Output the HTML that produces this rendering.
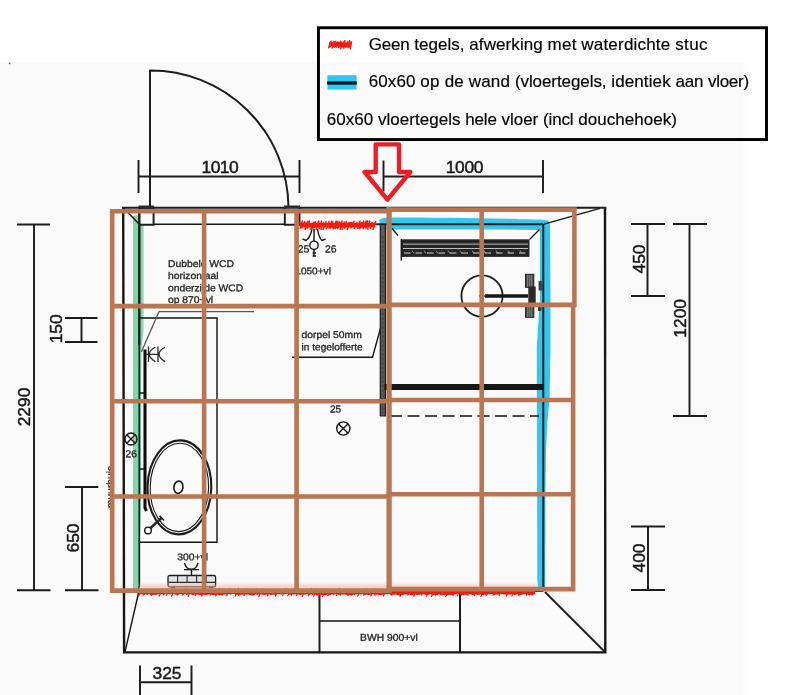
<!DOCTYPE html>
<html lang="nl">
<head>
<meta charset="utf-8">
<title>Badkamer tegelplan</title>
<style>
html,body{margin:0;padding:0;background:#fff;}
body{width:800px;height:695px;overflow:hidden;position:relative;}
svg{display:block;position:absolute;left:0;top:0;}
text{font-family:"Liberation Sans",sans-serif;fill:#111;}
.dim{font-size:17.4px;fill:#151515;stroke:#151515;stroke-width:0.45;}
.sm{font-size:9.8px;fill:#262626;stroke:#262626;stroke-width:0.32;}
.lg{font-size:17px;fill:#000;stroke:#000;stroke-width:0.18;white-space:pre;}
.ink{stroke:#1e1e1e;fill:none;stroke-width:1.95;}
.thin{stroke:#161616;fill:none;stroke-width:1.4;}
.wall{stroke:#141414;fill:none;stroke-width:2.4;}
.grid{stroke:#b97652;fill:none;stroke-width:4.6;}
</style>
</head>
<body>
<svg width="800" height="695" viewBox="0 0 800 695">
<defs>
<filter id="soft" x="-5%" y="-5%" width="110%" height="110%"><feGaussianBlur stdDeviation="0.42"/></filter>
<filter id="soft2" x="-20%" y="-20%" width="140%" height="140%"><feGaussianBlur stdDeviation="0.65"/></filter>
<filter id="haze" x="-20%" y="-100%" width="140%" height="300%"><feGaussianBlur stdDeviation="1.6"/></filter>
</defs>
<rect x="0" y="0" width="800" height="695" fill="#ffffff"/>
<rect x="0" y="61.8" width="745.5" height="634" fill="#fdfdfd"/>
<rect x="0" y="62.8" width="742.3" height="633" fill="#fafafb"/>

<g filter="url(#soft)">
<path d="M133,216 L138,215 L138,226 L143.5,226 L143.5,330 L141.5,350 L141,420 L141,500 L139.5,560 L138.5,590 L133,590 Z" fill="#82d6a7" filter="url(#soft2)"/>
<path d="M379,220 L383,218 L388,217.5 C430,217 500,218.5 540,219.6 L548,220.5 L550,223 L550.5,300 L550.5,348 L549.5,400 L547.5,420 L546,450 L545.4,500 L545.2,586 L544,590 L538.3,590 L537.3,580 L537,470 L536.8,348 L538.5,320 L540,300 L540,230 L500,229.6 L450,229.4 L388,229.4 L381,229.5 L380.5,226 Z" fill="#36c6f0" filter="url(#soft2)"/>
<path class="wall" d="M123.2,207.8 L124.1,652.4 H605.3 L605,207.8"/>
<path class="ink" style="stroke-width:1.9" d="M122,207.8 H606.3"/>
<path class="ink" style="stroke-width:2.4" d="M139.3,207.8 V345"/>
<path class="ink" style="stroke-width:1.7" d="M139.3,345 V585 L138.3,593"/>
<path class="thin" d="M139.5,469 H144 M139.5,393 H144"/>
<path class="thin" d="M153,224.3 H285 M300,224.3 H376"/>
<path class="ink" style="stroke-width:2.1" d="M376,224.3 H543.3"/>
<path class="thin" d="M392,228.5 L398,235.5"/>
<path class="ink" style="stroke-width:2" d="M543.3,224.3 V591"/>
<path class="ink" d="M139.3,591 H543.3"/>
<path class="thin" d="M123.5,208 L139,224 M544,224.2 L600,208.3 M125,651.8 L138.5,593"/>
<path class="ink" style="stroke-width:2" d="M545,592 L605,652"/>
<path class="ink" style="stroke-width:2" d="M150,207 V70.5 A138,138 0 0 1 288.5,207"/>
<circle cx="9.6" cy="63.4" r="0.9" fill="#555"/>
<path class="ink" d="M139.3,207.8 H153.6 V224.8 H139.3 M284.8,207.8 V224.8 H299.5 V207.8"/>
<path class="ink" style="stroke-width:2.6;stroke:#2a2a2a" d="M138.5,206.8 H154 M284,206.8 H300"/>
<path class="ink" d="M138.5,176.5 H299.5 M138.5,160 V193 M299.5,160 V193"/>
<path class="ink" d="M383.5,176.5 H543 M383.5,160.5 V191.5 M543,160 V193"/>
<path class="ink" d="M34,224.4 V590.3 M17,224.4 H50 M17,590.3 H50.5"/>
<path class="ink" d="M81.5,318 V342 M65,318 H97.5 M65,342 H97.5"/>
<path class="ink" d="M82,486.9 V590.3 M65,486.9 H98.3 M65,590.3 H98.5"/>
<path class="ink" d="M140,682.2 H191.5 M140,665.5 V695 M191.5,665.5 V695"/>
<path class="ink" d="M647.5,224 V296 M631,224 H665 M631,296 H665"/>
<path class="ink" d="M689.5,224 V416 M673,224 H707 M673,416 H707"/>
<path class="ink" d="M648,526.4 V590 M631,526.4 H665 M631,590 H665"/>
<path class="ink" style="stroke-width:2" d="M319.5,592 V652.4 M460,592 V652.4"/>
<path class="thin" d="M320,621 H460"/>
<path class="thin" d="M140,318 H217 V542.3 H140"/>
<path class="thin" style="stroke:#555;stroke-width:1.3" d="M254,311.6 H159 L141.3,352"/>
<path class="ink" style="stroke-width:3.1;stroke:#111" d="M145,349.5 V508 L146.5,511"/>
<ellipse class="ink" cx="179.4" cy="487.4" rx="31.9" ry="47" style="stroke-width:2.1" transform="rotate(1.5 179.4 487.4)"/>
<ellipse class="thin" cx="179.4" cy="487.4" rx="29.2" ry="44.2" style="stroke-width:1.1" transform="rotate(1.5 179.4 487.4)"/>
<ellipse class="ink" cx="178.4" cy="487.2" rx="4.5" ry="6.2" style="stroke-width:1.7" transform="rotate(8 178.4 487.2)"/>
<circle class="thin" cx="148" cy="530.4" r="3.3"/>
<path class="ink" style="stroke-width:2.6;stroke:#2a2a2a" d="M150.5,528 L161.5,518"/>
<path class="ink" style="stroke-width:1.6" d="M159.5,515.8 L164,520.5"/>
<path class="thin" style="stroke:#2a2a2a;stroke-width:1.3" d="M148.5,346.5 V362 M158,346.5 V362 M146,354.3 H158.5 M155.3,347.3 Q149.3,350.5 149.3,354.3 Q149.3,358 155.3,361.6 M165,347.3 Q159,350.5 159,354.3 Q159,358 165,361.6"/>
<circle class="thin" cx="131" cy="439" r="6"/><path class="thin" d="M126.8,434.8 L135.2,443.2 M135.2,434.8 L126.8,443.2"/>
<circle class="thin" cx="343.3" cy="428.5" r="6.6"/><path class="thin" d="M338.7,423.9 L347.9,433.1 M347.9,423.9 L338.7,433.1"/>
<circle class="thin" cx="314" cy="245.3" r="4.2"/>
<path class="thin" d="M314,241 V229 M314,249.5 V256 M312.5,253 H316 M312.5,256 H316 M312,229 Q310,238 306,240.5 L302.5,239 M317.5,229 Q319,238 322,240.5 L325.5,239"/>
<path class="thin" d="M184.5,562.8 Q186,569.3 191.3,569.3 Q196.6,569.3 198,562.8 M184,569.6 H199 M191.5,569.6 V576"/>
<rect x="168" y="575.5" width="47.6" height="11.3" rx="2" ry="2" fill="#e2e2e2" stroke="#1e1e1e" stroke-width="1.3"/>
<path d="M177.6,575.8 V582 M187.1,575.8 V582 M196.6,575.8 V582 M206.1,575.8 V582" stroke="#2a2a2a" stroke-width="1.1" fill="none"/>
<path d="M168.5,582.3 H215.2" stroke="#2a2a2a" stroke-width="1.2" fill="none"/>
<path d="M171,587.3 H175 M209,587.3 H213" stroke="#2a2a2a" stroke-width="1.4" fill="none"/>
<path class="thin" d="M292,357.3 H372.5 L385,312"/>
<rect x="380" y="225" width="5.8" height="191" fill="#5c5c5c"/>
<path d="M380.3,225 V416 M385.4,225 V416 M380,416 H386" stroke="#1c1c1c" stroke-width="1.2" fill="none"/>
<path d="M382.8,236 V414" stroke="#3a3a3a" stroke-width="0.9" stroke-dasharray="3 1.5" fill="none"/>
<path d="M384.5,387 H543" stroke="#141414" stroke-width="6" fill="none"/>
<path class="thin" d="M390,416 H539" stroke-dasharray="12 5.5"/>
<rect x="401" y="239.3" width="128.5" height="17.6" fill="#262626"/>
<path d="M403,244.1 H528 M403,248.5 H528" stroke="#e4e4e4" stroke-width="0.8" fill="none"/>
<path d="M404,253 H528" stroke="#cfcfcf" stroke-width="1.1" stroke-dasharray="6.5 5" fill="none"/>
<path d="M412,250.5 l2,3 M424,250.5 l2,3 M436,250.5 l2,3 M448,250.5 l2,3 M460,250.5 l2,3 M472,250.5 l2,3 M484,250.5 l2,3 M496,250.5 l2,3 M508,250.5 l2,3 M520,250.5 l2,3" stroke="#bbb" stroke-width="0.7" fill="none"/>
<path class="thin" d="M529.5,239.5 L539.5,229.5 M401.3,239 V260.5"/>
<circle class="ink" cx="482" cy="296" r="20.6" style="stroke-width:1.8"/>
<path d="M479,296 H486" stroke="#1a1a1a" stroke-width="1.2" fill="none"/>
<path d="M485,296 H528" stroke="#151515" stroke-width="3.4" fill="none"/>
<rect x="525.6" y="274.3" width="8.2" height="13" fill="#4a4a4a" stroke="#1e1e1e" stroke-width="1"/>
<rect x="525.6" y="305" width="8.2" height="12.3" fill="#4a4a4a" stroke="#1e1e1e" stroke-width="1"/>
<path d="M527.7,275 V287 M529.7,275 V287 M531.7,275 V287 M527.7,305.5 V317 M529.7,305.5 V317 M531.7,305.5 V317" stroke="#9a9a9a" stroke-width="0.7" fill="none"/>
<rect x="528.3" y="286.5" width="7.4" height="19" fill="#2a2a2a"/>
<rect x="538.6" y="281" width="3.2" height="9.5" fill="#3a3a3a"/><rect x="538" y="303" width="3.4" height="8" fill="#3a3a3a"/>
<text class="dim" x="201.5" y="172.8" textLength="37.2" lengthAdjust="spacing">1010</text>
<text class="dim" x="445.8" y="172.8" textLength="37.6" lengthAdjust="spacing">1000</text>
<text class="dim" transform="translate(30.2,407) rotate(-90)" text-anchor="middle">2290</text>
<text class="dim" transform="translate(62,328.8) rotate(-90)" text-anchor="middle">150</text>
<text class="dim" transform="translate(78.5,538) rotate(-90)" text-anchor="middle">650</text>
<text class="dim" x="167" y="678.5" text-anchor="middle">325</text>
<text class="dim" transform="translate(644.5,259) rotate(-90)" text-anchor="middle">450</text>
<text class="dim" transform="translate(685.9,318.3) rotate(-90)" text-anchor="middle">1200</text>
<text class="dim" transform="translate(645,558) rotate(-90)" text-anchor="middle">400</text>
<text class="sm" transform="translate(168,266.9) rotate(0.03) scale(1.056,1)" style="font-size:9.8px">Dubbele WCD</text>
<text class="sm" transform="translate(168,279) rotate(0.03) scale(1.056,1)" style="font-size:9.8px">horizontaal</text>
<text class="sm" transform="translate(168,291.3) rotate(0.03) scale(1.056,1)" style="font-size:9.8px">onderzijde WCD</text>
<text class="sm" transform="translate(168,303) rotate(0.03) scale(1.056,1)" style="font-size:9.8px">op 870+vl</text>
<text class="sm" transform="translate(297.8,252.6) rotate(0.03) scale(1.0,1)" style="font-size:10.4px">25</text>
<text class="sm" transform="translate(325.0,252.6) rotate(0.03) scale(1.0,1)" style="font-size:10.4px">26</text>
<text class="sm" transform="translate(295.3,274.3) rotate(0.03) scale(1.03,1)" style="font-size:9.8px">1050+vl</text>
<text class="sm" transform="translate(301.5,338) rotate(0.03) scale(1.056,1)" style="font-size:9.8px">dorpel 50mm</text>
<text class="sm" transform="translate(301.5,350.3) rotate(0.03) scale(1.035,1)" style="font-size:9.8px">in tegelofferte</text>
<text class="sm" transform="translate(329.9,412.5) rotate(0.03) scale(1.0,1)" style="font-size:10.2px">25</text>
<text class="sm" transform="translate(125.6,457.2) rotate(0.03) scale(1.0,1)" style="font-size:10.2px">26</text>
<text class="sm" transform="translate(113.4,508.3) rotate(-90.03) scale(1.056,1)" style="font-size:9.8px">muurbuis</text>
<text class="sm" transform="translate(177.3,560.2) rotate(0.03) scale(1.056,1)" style="font-size:9.8px">300+vl</text>
<text class="sm" transform="translate(360,640.8) rotate(0.03) scale(1.056,1)" style="font-size:9.8px" stroke-width="0.5">BWH 900+vl</text>
</g>
<path d="M139,584.5 H537 V589 H139 Z" fill="#f8aaa0" filter="url(#haze)" opacity="0.55"/>
<path d="M300,222 H376 V228 H300 Z" fill="#f8a090" filter="url(#haze)" opacity="0.55"/>
<g filter="url(#soft)"><path d="M300.5,222.3 L302.8,222.9 L305.5,222.3 L307.6,223.2 L309.4,222.9 L311.9,223.0 L314.2,222.4 L316.4,223.1 L319.1,222.5 L321.9,223.3 L323.7,223.4 L325.7,222.7 L328.0,222.8 L330.8,223.3 L332.5,223.3 L334.8,223.0 L337.1,222.4 L339.9,222.0 L341.7,222.4 L343.3,222.9 L345.3,223.3 L348.1,222.4 L349.7,222.2 L351.4,222.0 L354.3,223.3 L356.5,222.9 L358.8,223.4 L361.3,222.3 L363.6,222.8 L365.9,221.9 L367.5,222.9 L369.5,223.0 L371.1,223.0 L373.2,222.8 L375.2,222.5 L375.3,227.0 L373.0,227.1 L371.7,226.9 L369.8,226.5 L367.4,227.6 L366.0,227.5 L363.0,227.2 L361.1,228.1 L358.8,227.2 L356.6,227.4 L354.1,227.2 L351.9,227.0 L349.6,227.5 L347.6,227.5 L345.8,227.3 L342.7,227.6 L342.0,227.9 L340.3,227.2 L336.6,227.9 L334.5,227.8 L333.1,227.9 L331.3,227.6 L328.5,227.6 L325.5,227.1 L323.7,227.5 L321.4,226.7 L319.5,227.2 L316.8,227.6 L313.7,227.9 L311.4,227.7 L309.8,227.3 L307.6,227.5 L305.2,228.1 L302.3,226.5 L300.6,227.1Z" fill="#f01e0e"/><path d="M300.0,228.2 L302.3,221.0 M301.8,227.9 L304.7,221.5 M305.1,229.2 L307.6,221.2 M307.3,228.1 L309.4,221.0 M310.9,229.3 L313.6,222.3 M312.8,228.4 L315.4,221.9 M316.2,229.4 L318.7,221.0 M319.2,228.7 L321.6,221.1 M320.9,229.5 L323.4,222.4 M323.1,229.4 L325.9,221.8 M326.5,228.7 L329.0,221.5 M329.0,228.1 L331.7,221.3 M330.6,227.9 L332.8,221.9 M333.3,228.6 L336.2,221.4 M335.2,228.5 L337.8,221.2 M337.3,228.4 L339.6,222.1 M340.1,229.4 L342.1,221.0 M342.1,229.2 L344.3,221.9 M344.4,228.1 L346.3,221.6 M347.4,229.4 L350.1,222.5 M351.1,227.8 L354.0,221.3 M354.3,228.5 L356.9,222.5 M357.7,228.3 L360.0,221.1 M359.5,228.5 L361.7,222.5 M361.0,227.9 L363.7,221.1 M363.3,228.3 L366.2,221.0 M365.8,228.2 L367.7,220.9 M367.7,229.0 L369.6,221.1 M370.3,228.2 L372.3,222.6 M372.9,229.2 L375.8,221.5" stroke="#f01e0e" stroke-width="1.5" fill="none" stroke-linecap="round"/></g>
<g filter="url(#soft)"><path d="M139.0,590.2 L141.2,590.4 L142.8,590.7 L144.1,590.0 L145.9,589.2 L148.0,590.4 L149.4,590.2 L151.4,589.5 L153.5,589.7 L155.4,589.5 L157.6,590.6 L158.9,589.4 L160.7,589.2 L162.2,590.5 L163.9,590.3 L165.1,590.4 L167.1,589.8 L168.4,589.5 L170.3,590.7 L171.9,590.0 L173.8,590.5 L176.0,589.3 L178.1,589.7 L179.6,589.7 L181.0,590.3 L182.2,590.8 L183.6,590.2 L185.3,589.3 L186.9,590.5 L189.1,590.2 L190.7,589.4 L192.4,590.8 L194.0,590.0 L195.5,589.8 L197.7,590.7 L199.3,589.3 L201.3,589.8 L203.2,590.3 L205.1,589.6 L207.0,589.7 L208.8,589.2 L210.7,589.9 L212.7,589.8 L214.7,589.8 L216.6,590.8 L218.4,589.5 L220.0,590.3 L221.4,590.4 L223.0,590.2 L224.9,589.2 L226.8,589.6 L228.0,590.0 L229.4,589.7 L230.6,589.9 L232.4,589.6 L234.0,589.6 L236.0,589.8 L237.3,590.1 L239.5,590.5 L241.3,589.8 L243.1,590.7 L244.6,590.6 L246.4,590.2 L248.5,589.8 L250.0,590.8 L252.1,590.2 L253.8,589.9 L255.5,589.7 L257.3,589.9 L259.4,589.2 L261.5,590.5 L262.8,590.8 L264.5,590.2 L265.8,590.4 L267.4,589.7 L268.9,590.4 L270.4,589.9 L272.1,589.2 L273.9,590.3 L276.0,589.8 L277.4,589.7 L279.4,590.3 L281.4,590.7 L283.2,590.0 L285.0,590.5 L287.0,590.5 L288.9,590.8 L290.2,590.5 L292.3,590.3 L294.4,589.4 L295.8,590.2 L297.4,589.3 L299.3,590.6 L300.8,590.2 L302.4,589.3 L304.2,590.0 L306.1,589.6 L308.0,590.0 L309.6,590.4 L311.4,589.3 L312.8,590.2 L314.4,589.7 L316.4,589.3 L318.3,589.6 L320.1,590.5 L321.7,589.6 L323.2,589.8 L325.1,590.5 L326.8,590.1 L328.4,589.4 L329.6,590.6 L330.8,590.0 L332.4,589.9 L333.8,589.8 L335.1,589.6 L336.6,589.6 L338.7,589.8 L340.6,590.0 L342.5,589.7 L343.9,589.5 L345.1,589.8 L346.6,589.9 L348.6,589.5 L350.7,590.2 L351.9,589.3 L353.1,590.1 L354.7,589.4 L356.4,590.7 L357.6,589.8 L359.2,589.7 L361.4,589.5 L363.1,589.3 L364.9,590.7 L366.3,589.2 L368.1,589.8 L370.2,589.7 L371.6,589.4 L373.6,590.5 L374.8,589.6 L376.6,589.6 L377.9,589.5 L379.2,589.9 L380.9,590.6 L382.7,589.9 L384.9,590.4 L386.9,589.8 L388.2,589.6 L389.5,590.4 L390.7,589.4 L392.9,590.2 L394.4,589.7 L396.5,590.4 L397.8,590.3 L399.8,589.4 L401.5,589.9 L403.7,590.1 L404.9,590.5 L407.1,589.3 L409.2,589.8 L410.6,590.1 L412.1,589.8 L414.1,590.6 L415.4,590.5 L416.8,589.4 L418.2,590.5 L420.3,590.2 L421.5,590.0 L423.1,589.7 L424.6,590.0 L426.8,590.5 L428.7,590.1 L430.5,590.3 L431.8,589.3 L433.7,590.3 L435.2,590.3 L437.1,590.7 L439.1,590.4 L440.8,590.6 L442.6,589.8 L444.0,590.2 L445.8,589.8 L447.5,590.3 L448.9,589.7 L451.0,589.5 L452.5,589.3 L454.5,590.4 L456.3,590.6 L458.1,590.7 L459.4,590.1 L460.8,590.2 L462.7,589.3 L464.9,589.7 L467.0,589.6 L468.7,589.4 L470.0,589.4 L471.9,590.4 L473.8,590.7 L476.0,589.4 L477.4,589.8 L479.4,589.3 L480.9,589.4 L482.8,590.0 L484.1,590.4 L485.4,590.0 L487.5,589.8 L489.4,590.5 L491.0,590.6 L492.6,589.6 L494.0,589.4 L495.8,589.8 L497.3,590.5 L498.9,589.2 L500.5,590.0 L502.7,589.9 L504.1,590.7 L505.4,589.8 L507.2,590.6 L508.4,589.2 L510.5,590.5 L512.7,590.4 L514.7,589.9 L516.1,589.9 L517.6,590.3 L519.2,589.3 L521.3,589.5 L523.5,590.2 L525.6,590.7 L527.3,589.6 L529.2,589.4 L531.1,589.3 L532.7,589.8 L534.9,589.6 L535.0,594.2 L532.7,594.7 L530.7,594.8 L529.3,595.4 L527.6,594.4 L525.1,594.1 L523.1,594.2 L520.7,595.1 L519.1,595.2 L517.1,594.1 L515.8,594.6 L515.3,595.4 L513.2,594.0 L511.0,594.4 L508.7,594.5 L507.4,594.8 L505.7,594.5 L504.4,594.6 L502.6,593.9 L499.9,594.1 L498.6,594.5 L496.7,595.0 L496.3,593.9 L494.0,595.4 L492.8,593.9 L491.0,593.9 L489.5,594.3 L487.3,594.6 L485.2,595.0 L484.4,594.3 L483.4,595.3 L481.1,594.4 L479.3,594.7 L477.4,594.9 L475.5,593.9 L474.4,594.8 L472.3,595.1 L470.1,594.0 L468.3,594.1 L467.2,595.1 L465.3,594.8 L462.7,595.1 L460.9,594.9 L459.5,594.1 L457.7,593.8 L456.0,594.2 L454.4,594.5 L452.5,595.1 L451.2,595.0 L448.7,594.8 L447.4,595.2 L445.3,594.9 L444.4,595.3 L442.0,594.4 L440.5,595.4 L439.3,594.1 L437.6,594.9 L434.7,595.0 L433.5,595.3 L431.6,594.7 L430.5,594.3 L429.1,594.4 L427.3,594.9 L424.9,594.4 L422.5,594.3 L421.6,594.1 L420.6,594.4 L418.0,594.9 L417.1,595.2 L415.4,593.9 L414.2,594.4 L411.8,595.4 L410.5,595.0 L408.9,594.2 L407.2,594.6 L404.9,593.9 L404.2,594.8 L401.4,595.0 L399.6,595.3 L397.8,595.3 L396.0,594.6 L393.9,594.7 L392.6,594.5 L390.6,595.2 L389.6,593.8 L388.4,594.3 L386.4,593.9 L385.1,594.2 L383.1,594.8 L381.1,595.0 L378.9,595.0 L377.6,594.4 L376.1,594.9 L374.4,594.5 L373.4,594.0 L371.4,593.9 L370.1,595.1 L368.2,595.0 L366.3,594.6 L365.0,595.2 L362.9,594.0 L361.4,594.4 L358.7,593.9 L357.1,594.2 L355.8,594.2 L354.2,595.2 L353.7,594.6 L352.2,594.5 L350.6,595.4 L348.2,594.9 L346.4,595.0 L345.7,594.4 L343.3,594.2 L342.7,595.0 L341.2,594.0 L339.3,594.9 L336.6,593.9 L334.9,594.1 L333.7,595.2 L332.0,594.0 L331.3,594.8 L329.6,595.0 L327.8,594.1 L326.9,595.0 L325.0,595.2 L322.8,595.1 L321.5,594.8 L319.7,594.8 L317.8,595.4 L316.0,595.3 L314.8,593.8 L312.5,595.2 L311.6,593.9 L309.2,594.9 L307.6,594.2 L306.1,594.2 L304.7,594.7 L302.6,594.0 L300.8,595.3 L298.9,594.5 L296.8,594.7 L295.3,594.0 L294.6,594.5 L291.9,594.3 L289.8,594.8 L289.5,594.9 L287.2,593.8 L284.4,594.2 L283.0,594.0 L281.0,594.6 L279.4,594.3 L277.8,593.9 L275.9,595.2 L274.0,594.6 L272.4,594.5 L270.9,595.2 L269.0,593.9 L267.4,594.5 L265.6,594.7 L264.6,595.0 L262.6,594.8 L261.2,594.2 L259.4,594.2 L257.1,595.1 L255.5,594.0 L253.6,595.4 L251.8,595.4 L249.8,595.3 L248.4,594.2 L246.0,594.8 L244.0,594.0 L243.6,594.8 L240.9,594.8 L239.4,595.1 L237.1,594.7 L235.5,594.8 L233.9,594.0 L232.9,593.8 L230.4,594.8 L229.0,594.1 L227.7,593.9 L227.0,594.8 L224.5,594.5 L223.4,594.8 L221.5,594.9 L220.3,595.0 L218.8,595.3 L217.2,594.6 L215.1,595.2 L212.9,595.0 L211.1,594.8 L208.9,594.2 L207.6,594.8 L205.1,595.0 L203.6,594.4 L201.7,595.0 L199.0,595.1 L197.9,594.6 L195.1,594.4 L194.3,594.6 L192.8,595.4 L191.2,594.3 L189.5,594.0 L186.5,595.0 L185.8,593.9 L184.0,594.5 L182.2,594.4 L181.6,594.1 L179.2,593.9 L178.6,594.7 L175.8,594.8 L174.3,593.9 L172.2,594.0 L170.9,594.4 L168.9,594.1 L167.2,593.8 L165.5,593.8 L163.4,595.4 L162.2,594.3 L160.9,594.3 L158.4,594.3 L157.3,594.4 L155.9,594.9 L154.1,594.7 L151.1,595.4 L148.9,593.8 L147.6,595.1 L145.6,594.2 L143.8,594.7 L143.0,595.2 L141.7,593.8 L139.3,595.1Z" fill="#f01e0e"/><path d="M138.5,596.3 L141.7,589.8 M143.5,594.9 L146.7,589.5 M151.2,595.6 L154.2,589.7 M159.1,596.2 L162.4,589.0 M166.4,595.2 L169.9,589.3 M171.5,596.3 L175.0,589.5 M176.9,595.1 L180.4,589.7 M182.9,595.1 L186.2,588.7 M188.1,596.6 L191.0,589.4 M195.2,595.5 L198.8,590.0 M201.6,596.1 L205.1,589.6 M210.4,595.0 L213.7,589.0 M215.7,596.0 L219.3,588.5 M222.1,595.1 L225.1,589.5 M226.8,595.8 L229.7,588.5 M235.1,596.2 L238.5,588.3 M238.7,595.5 L242.1,589.9 M244.0,595.6 L246.8,589.0 M253.0,595.0 L256.4,589.1 M258.7,596.7 L262.4,588.7 M267.2,596.1 L270.3,589.9 M275.3,596.3 L278.4,589.2 M282.7,595.6 L286.1,588.5 M287.7,595.8 L290.6,589.7 M291.4,595.1 L294.5,589.4 M296.4,595.7 L299.4,590.0 M302.2,596.5 L305.2,589.4 M308.4,595.8 L311.5,588.6 M313.6,596.3 L317.0,588.9 M322.5,596.6 L325.8,589.0 M327.8,595.6 L331.3,589.2 M336.5,595.4 L339.6,588.3 M340.4,595.0 L343.2,589.7 M347.9,595.6 L351.4,590.0 M351.8,595.2 L355.1,590.0 M357.7,596.3 L360.9,589.8 M363.8,595.1 L366.6,589.0 M370.8,596.0 L374.1,588.6 M374.9,595.1 L378.1,589.5 M383.4,596.0 L386.2,589.6 M391.5,595.1 L395.1,589.4 M400.0,596.5 L403.4,589.1 M407.8,595.1 L411.4,590.0 M413.8,596.3 L416.8,589.1 M421.3,595.0 L424.9,589.7 M426.4,596.6 L430.0,588.5 M431.5,596.6 L435.1,589.1 M435.3,595.1 L438.6,589.8 M441.8,595.0 L444.8,588.6 M445.7,596.7 L449.3,589.7 M453.0,595.5 L456.5,588.4 M457.3,595.9 L460.5,589.1 M461.3,595.0 L464.0,589.2 M467.7,595.2 L470.6,588.8 M474.4,595.6 L477.3,588.7 M481.0,596.5 L483.9,589.1 M486.3,595.3 L489.8,589.3 M493.0,595.2 L496.1,588.9 M499.0,595.6 L502.2,590.1 M506.2,596.2 L509.7,589.5 M511.8,596.1 L514.6,590.1 M518.7,595.6 L521.5,588.4 M526.4,595.1 L529.2,589.6 M532.0,595.0 L535.5,589.3" stroke="#f01e0e" stroke-width="1.2" fill="none" stroke-linecap="round"/></g>
<path class="grid" d="M112.2,209.0 V592.9 M204.1,209.0 V592.9 M296.6,209.0 V592.9 M481.7,207.29999999999998 V591.4 M574.4,207.29999999999998 V307.2 M573.1,304.9 V591.4 M109.9,211.3 H389 M109.9,306.1 H389 M109.9,401.3 H389 M109.9,496.5 H389 M109.9,590.6 H389 M386.6,209.6 H576.7 M386.6,304.9 H576.7 M386.6,400.0 H575.4 M386.6,494.2 H575.4 M386.6,589.1 H575.4"/>
<path d="M389.1,207.2 V592.9" stroke="#b97652" stroke-width="5.3" fill="none"/>
<path d="M375.7,144.4 H399 V172 H410.3 L387.4,199.6 L364.5,172 H375.7 Z" fill="none" stroke="#ee1c25" stroke-width="4.4" stroke-linejoin="round"/>
<rect x="318.45" y="27.75" width="448.05" height="111.8" fill="none" stroke="#000" stroke-width="2.95"/>
<g filter="url(#soft)"><path d="M329.2,42.0 L330.8,42.1 L332.4,42.3 L333.8,41.4 L334.9,42.9 L336.7,41.6 L337.8,41.6 L339.4,42.0 L341.1,42.1 L342.5,42.9 L344.3,41.8 L345.5,42.5 L347.0,42.8 L348.3,42.8 L349.8,41.4 L351.2,41.4 L351.0,47.8 L350.0,47.5 L348.3,47.9 L347.4,46.3 L345.4,47.7 L344.0,46.8 L343.1,47.6 L341.3,47.0 L339.8,47.1 L337.5,46.3 L336.1,47.1 L335.5,47.3 L334.2,47.4 L332.7,46.5 L330.9,46.6 L329.3,47.8Z" fill="#f01e0e"/><path d="M328.6,47.9 L330.4,41.6 M329.8,47.0 L331.2,41.1 M332.1,48.2 L333.8,41.5 M334.1,47.3 L335.4,41.2 M336.5,47.1 L337.7,41.9 M338.6,47.6 L340.5,41.1 M339.7,47.1 L341.3,42.0 M340.8,48.8 L342.0,42.1 M342.5,47.2 L344.2,41.0 M343.8,48.3 L345.0,40.5 M346.0,47.7 L347.7,41.2 M347.8,47.7 L349.6,40.5 M350.3,48.8 L351.7,41.6" stroke="#f01e0e" stroke-width="1.3" fill="none" stroke-linecap="round"/></g>
<rect x="326.5" y="66.5" width="31" height="28" fill="#fdfdfe"/>
<rect x="327.4" y="75.2" width="29.2" height="14.4" fill="#30c6ef" filter="url(#soft2)"/>
<rect x="327.2" y="81.4" width="29.6" height="3.2" fill="#081820" filter="url(#soft2)"/>
<text class="lg" y="50.3"><tspan x="368.80" textLength="45.36" lengthAdjust="spacing">Geen </tspan><tspan x="414.16" textLength="55.10" lengthAdjust="spacing">tegels, </tspan><tspan x="469.25" textLength="78.37" lengthAdjust="spacing">afwerking </tspan><tspan x="547.62" textLength="33.71" lengthAdjust="spacing">met </tspan><tspan x="581.33" textLength="93.81" lengthAdjust="spacing">waterdichte </tspan><tspan x="675.14" textLength="32.44" lengthAdjust="spacing">stuc</tspan></text>
<text class="lg" y="87.4"><tspan x="368.80" textLength="51.34" lengthAdjust="spacing">60x60 </tspan><tspan x="420.14" textLength="24.57" lengthAdjust="spacing">op </tspan><tspan x="444.70" textLength="23.94" lengthAdjust="spacing">de </tspan><tspan x="468.64" textLength="46.27" lengthAdjust="spacing">wand </tspan><tspan x="514.91" textLength="96.32" lengthAdjust="spacing">(vloertegels, </tspan><tspan x="611.24" textLength="64.24" lengthAdjust="spacing">identiek </tspan><tspan x="675.48" textLength="32.44" lengthAdjust="spacing">aan </tspan><tspan x="707.92" textLength="41.23" lengthAdjust="spacing">vloer)</tspan></text>
<text class="lg" y="124.7"><tspan x="326.70" textLength="51.34" lengthAdjust="spacing">60x60 </tspan><tspan x="378.04" textLength="87.19" lengthAdjust="spacing">vloertegels </tspan><tspan x="465.23" textLength="36.21" lengthAdjust="spacing">hele </tspan><tspan x="501.44" textLength="41.55" lengthAdjust="spacing">vloer </tspan><tspan x="542.99" textLength="35.26" lengthAdjust="spacing">(incl </tspan><tspan x="578.25" textLength="98.57" lengthAdjust="spacing">douchehoek)</tspan></text>
</svg>
</body>
</html>
